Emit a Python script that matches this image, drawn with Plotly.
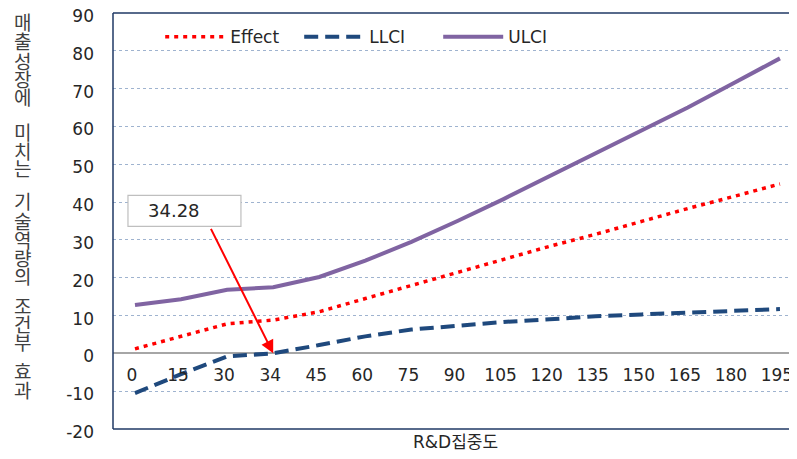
import plotly.graph_objects as go

categories = ["0", "15", "30", "34", "45", "60", "75", "90", "105", "120", "135", "150", "165", "180", "195"]
effect = [1.2, 4.5, 7.8, 8.8, 11.0, 14.5, 18.0, 21.5, 25.0, 28.3, 31.5, 35.0, 38.3, 41.5, 44.8]
llci = [-10.5, -5.5, -0.8, 0.0, 2.2, 4.5, 6.3, 7.3, 8.3, 9.0, 9.8, 10.3, 10.8, 11.3, 11.7]
ulci = [12.8, 14.3, 16.8, 17.5, 20.2, 24.5, 29.5, 35.0, 40.8, 46.8, 53.0, 59.0, 65.0, 71.5, 78.0]
y_ticks = [-20, -10, 0, 10, 20, 30, 40, 50, 60, 70, 80, 90]
y_ticktext = ["-20", "-10", "0", "10", "20", "30", "40", "50", "60", "70", "80", "90"]
y_title = "매출성장에 미치는 기술역량의 조건부 효과"
x_title = "R&D집중도"
annot_text = "34.28"
annot_cat = "34"
annot_val = 0

FONT = "DejaVu Sans, Noto Sans CJK KR, sans-serif"
KFONT = "Noto Sans CJK KR, sans-serif"
TXT = "#262626"

fig = go.Figure()
fig.add_trace(go.Scatter(x=categories, y=effect, name="Effect", mode="lines",
                         line=dict(color="#FF0000", width=3.5, dash="4px,5px")))
fig.add_trace(go.Scatter(x=categories, y=llci, name="LLCI", mode="lines",
                         line=dict(color="#1F497D", width=4, dash="14px,7px")))
fig.add_trace(go.Scatter(x=categories, y=ulci, name="ULCI", mode="lines",
                         line=dict(color="#8064A2", width=4)))

# page body has an 8px margin, so the figure is drawn from (8, 8);
# keep the page within the window so no scrollbar appears
OFF = 8
W, H = 797 - OFF, 459 - 2 * OFF
L, T, R = 113 - OFF, 13 - OFF, 0
B = (H + OFF) - 429
plot_h = H - T - B

fig.update_layout(
    width=W, height=H,
    margin=dict(l=L, r=R, t=T, b=B, autoexpand=False),
    paper_bgcolor="white", plot_bgcolor="white",
    font=dict(family=FONT, size=17, color=TXT),
    showlegend=True,
    legend=dict(orientation="h", x=0.069, y=0.942, xanchor="left", yanchor="middle",
                font=dict(size=17, family=FONT, color=TXT), bgcolor="rgba(0,0,0,0)",
                itemwidth=60, entrywidth=64, tracegroupgap=0),
    xaxis=dict(type="category", categoryorder="array", categoryarray=categories,
               range=[-0.477, 14.37], anchor="free", position=20 / 110,
               showgrid=False, showline=False, zeroline=False, ticks="", automargin=False,
               ticklabeloverflow="allow", ticklabelshift=-3,
               ticklabelstandoff=10, tickfont=dict(size=17, color=TXT)),
    yaxis=dict(range=[-20, 90], tickvals=y_ticks, ticktext=y_ticktext, showgrid=True,
               automargin=False,
               gridcolor="#9FB3CF", griddash="dot", gridwidth=1,
               zeroline=True, zerolinecolor="#A6A6A6", zerolinewidth=1.5,
               showline=False, ticks="", ticklabelstandoff=18, ticklabeloverflow="allow",
               ticklabelshift=3,
               tickfont=dict(size=17, color=TXT)),
)

# plot border (left, top, bottom)
for x0, y0, x1, y1 in [(0, 0, 0, 1), (0, 1, 1, 1), (0, 0, 1, 0)]:
    fig.add_shape(type="line", xref="paper", yref="paper", x0=x0, y0=y0, x1=x1, y1=y1,
                  line=dict(color="#1F3864", width=1.5))

# vertical y-axis title, one character per line (screen y of each glyph centre)
title_chars = [c for c in y_title if c != " "]
title_y = [21.5, 41, 60, 78, 96.5, 131, 150, 167, 201, 220, 239, 257, 275, 305, 323, 341, 370, 389]
for ch, sy in zip(title_chars, title_y):
    fig.add_annotation(text=ch, xref="paper", yref="paper", x=0, xshift=22 - 113,
                       y=(429 - sy) / plot_h, showarrow=False,
                       font=dict(family=KFONT, size=19, color="#404040"),
                       xanchor="center", yanchor="middle")

# x-axis title
fig.add_annotation(text=x_title, xref="paper", yref="paper", x=0.5, y=(429 - 442) / plot_h,
                   showarrow=False, font=dict(family=FONT, size=17, color=TXT),
                   xanchor="center", yanchor="middle")

# callout box and arrow
cat_idx = categories.index(annot_cat)
fig.add_shape(type="rect", xref="x", yref="y", x0=-0.152, x1=2.30, y0=33.6, y1=41.8,
              line=dict(color="#BFBFBF", width=1.2), fillcolor="white", layer="above")
fig.add_annotation(text=annot_text, xref="x", yref="y", x=0.85, y=37.8, showarrow=False,
                   font=dict(family=FONT, size=18, color=TXT), xanchor="center", yanchor="middle")
fig.add_annotation(text="", xref="x", yref="y", x=cat_idx, y=annot_val,
                   ax=-63, ay=-126, showarrow=True, arrowcolor="#FF0000",
                   arrowwidth=2, arrowhead=2, arrowsize=1.3)

fig.write_html("out.html")
